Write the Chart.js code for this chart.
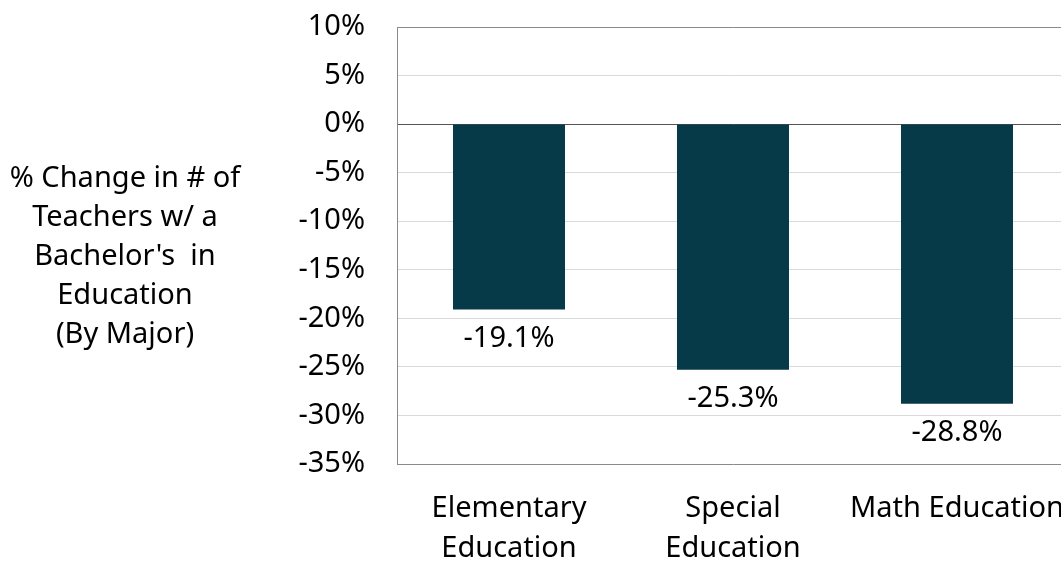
<!DOCTYPE html>
<html><head><meta charset="utf-8">
<script src="https://cdn.jsdelivr.net/npm/chart.js@4.4.1/dist/chart.umd.min.js"></script>
<style>
html,body{margin:0;padding:0;background:#fff;overflow:hidden;width:1061px;height:561px;}
#wrap{position:absolute;left:0;top:0;width:1072px;height:561px;}
#ytitle{position:absolute;left:0;width:250px;top:156px;text-align:center;font-family:'Noto Sans',sans-serif;font-size:29px;line-height:39px;color:#000;white-space:pre;}
</style></head>
<body>
<div id="wrap"><canvas id="c" width="1072" height="561"></canvas></div>
<div id="ytitle">% Change in # of
Teachers w/ a
Bachelor's  in
Education
(By Major)</div>
<script>
const categories = [["Elementary","Education"],["Special","Education"],"Math Education"];
const values = [-19.1, -25.3, -28.8];
const yMin = -35, yMax = 10, yStep = 5;
const FONT = "'Noto Sans', sans-serif";

const labelPlugin = {
  id:'barLabels',
  afterDatasetsDraw(chart){
    const ctx = chart.ctx;
    const meta = chart.getDatasetMeta(0);
    ctx.save();
    ctx.font = '29px ' + FONT;
    ctx.fillStyle = '#000';
    ctx.textAlign = 'center';
    ctx.textBaseline = 'middle';
    meta.data.forEach((bar,i)=>{
      ctx.fillText(values[i].toFixed(1)+'%', bar.x, bar.y + 29);
    });
    ctx.restore();
  }
};

new Chart(document.getElementById('c'), {
  type:'bar',
  data:{labels:categories, datasets:[{data:values, backgroundColor:'#063a48', barPercentage:0.5, categoryPercentage:1}]},
  options:{
    responsive:false, animation:false,
    layout:{padding:{top:27,right:3,left:0,bottom:0}},
    plugins:{legend:{display:false},tooltip:{enabled:false}},
    scales:{
      y:{min:yMin,max:yMax,
        ticks:{stepSize:yStep,padding:32,color:'#000',font:{family:FONT,size:29},callback:v=>v+'%'},
        grid:{drawTicks:false,color:c=>c.tick.value===0?'#555':(c.tick.value===yMax?'#8a8a8a':'#d9d9d9')},
        border:{display:true,color:'#8a8a8a'},
        afterFit(s){s.width=397;s.paddingTop=0;s.paddingBottom=0;}
      },
      x:{
        ticks:{padding:25,color:'#000',font:{family:FONT,size:29,lineHeight:1.38},maxRotation:0},
        grid:{display:false,drawTicks:false},
        border:{display:true,color:'#8a8a8a'},
        afterFit(s){s.height=97;s.paddingLeft=0;s.paddingRight=0;}
      }
    }
  },
  plugins:[labelPlugin]
});
</script>
</body></html>
